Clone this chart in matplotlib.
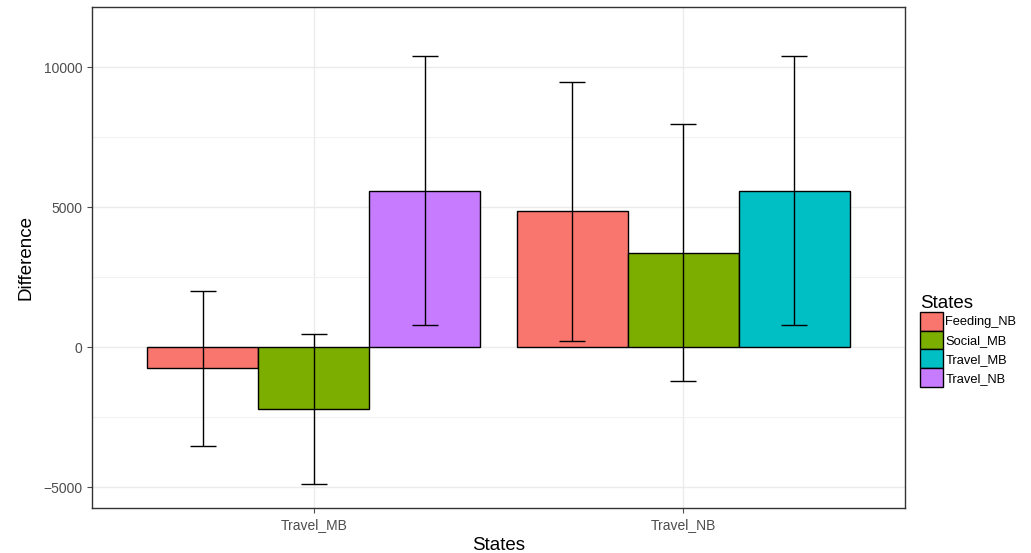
import matplotlib
matplotlib.use("Agg")
import matplotlib.pyplot as plt
from matplotlib.patches import Patch
import numpy as np

plt.rcParams['font.family'] = ['Liberation Sans', 'DejaVu Sans']

# x groups and the states drawn inside each group
groups = ['Travel_MB', 'Travel_NB']
group_states = [['Feeding_NB', 'Social_MB', 'Travel_NB'],
                ['Feeding_NB', 'Social_MB', 'Travel_MB']]

# mean difference with lower / upper error limits, per group
means = [[-760, -2210, 5590],
         [4865, 3360, 5590]]
lower = [[-3520, -4890, 790],
         [230, -1200, 790]]
upper = [[2000, 460, 10405],
         [9460, 7965, 10405]]

legend_states = ['Feeding_NB', 'Social_MB', 'Travel_MB', 'Travel_NB']
colors = {'Feeding_NB': '#F8766D', 'Social_MB': '#7CAE00',
          'Travel_MB': '#00BFC4', 'Travel_NB': '#C77CFF'}

fig = plt.figure(figsize=(10.31, 5.53), dpi=100)
ax = fig.add_axes([92/1031, 1 - 508/553, (905 - 92)/1031, (508 - 7)/553])

bar_w = 0.3
cap = 0.035
for gi, g in enumerate(groups):
    n = len(group_states[gi])
    for si, st in enumerate(group_states[gi]):
        x = gi + 1 + (si - (n - 1) / 2) * bar_w
        ax.bar(x, means[gi][si], width=bar_w, color=colors[st],
               edgecolor='black', linewidth=1.0, zorder=2)
        ax.vlines(x, lower[gi][si], upper[gi][si], color='black', lw=1.0, zorder=3)
        ax.hlines([lower[gi][si], upper[gi][si]], x - cap, x + cap,
                  color='black', lw=1.0, zorder=3)

ax.set_xlim(0.4, 2.6)
ax.set_ylim(-5750, 12150)
ax.set_xticks([1, 2])
ax.set_xticklabels(groups)
ax.set_yticks([-5000, 0, 5000, 10000])
ax.set_yticks([-2500, 2500, 7500], minor=True)

ax.grid(True, which='major', color='#EBEBEB', lw=1.0, zorder=0)
ax.grid(True, which='minor', axis='y', color='#F2F2F2', lw=0.8, zorder=0)
ax.set_axisbelow(True)
ax.tick_params(which='minor', length=0)
ax.tick_params(which='major', length=3.5, color='#4D4D4D', labelcolor='#4D4D4D',
               labelsize=10)
for sp in ax.spines.values():
    sp.set_color('#333333')
    sp.set_linewidth(1.0)

ax.set_xlabel('States', fontsize=13.5, labelpad=4)
ax.set_ylabel('Difference', fontsize=13.5, labelpad=6)

handles = [Patch(facecolor=colors[s], edgecolor='black', label=s) for s in legend_states]
leg = fig.legend(handles=handles, title='States', loc='upper left',
                 bbox_to_anchor=(920/1031, 1 - 295/553), frameon=False,
                 fontsize=9.3, title_fontsize=13.5, handlelength=1.75,
                 handleheight=1.85, handletextpad=0.2, labelspacing=0.0,
                 borderaxespad=0, borderpad=0)
leg._legend_box.align = 'left'

fig.savefig('out.png', dpi=100)
